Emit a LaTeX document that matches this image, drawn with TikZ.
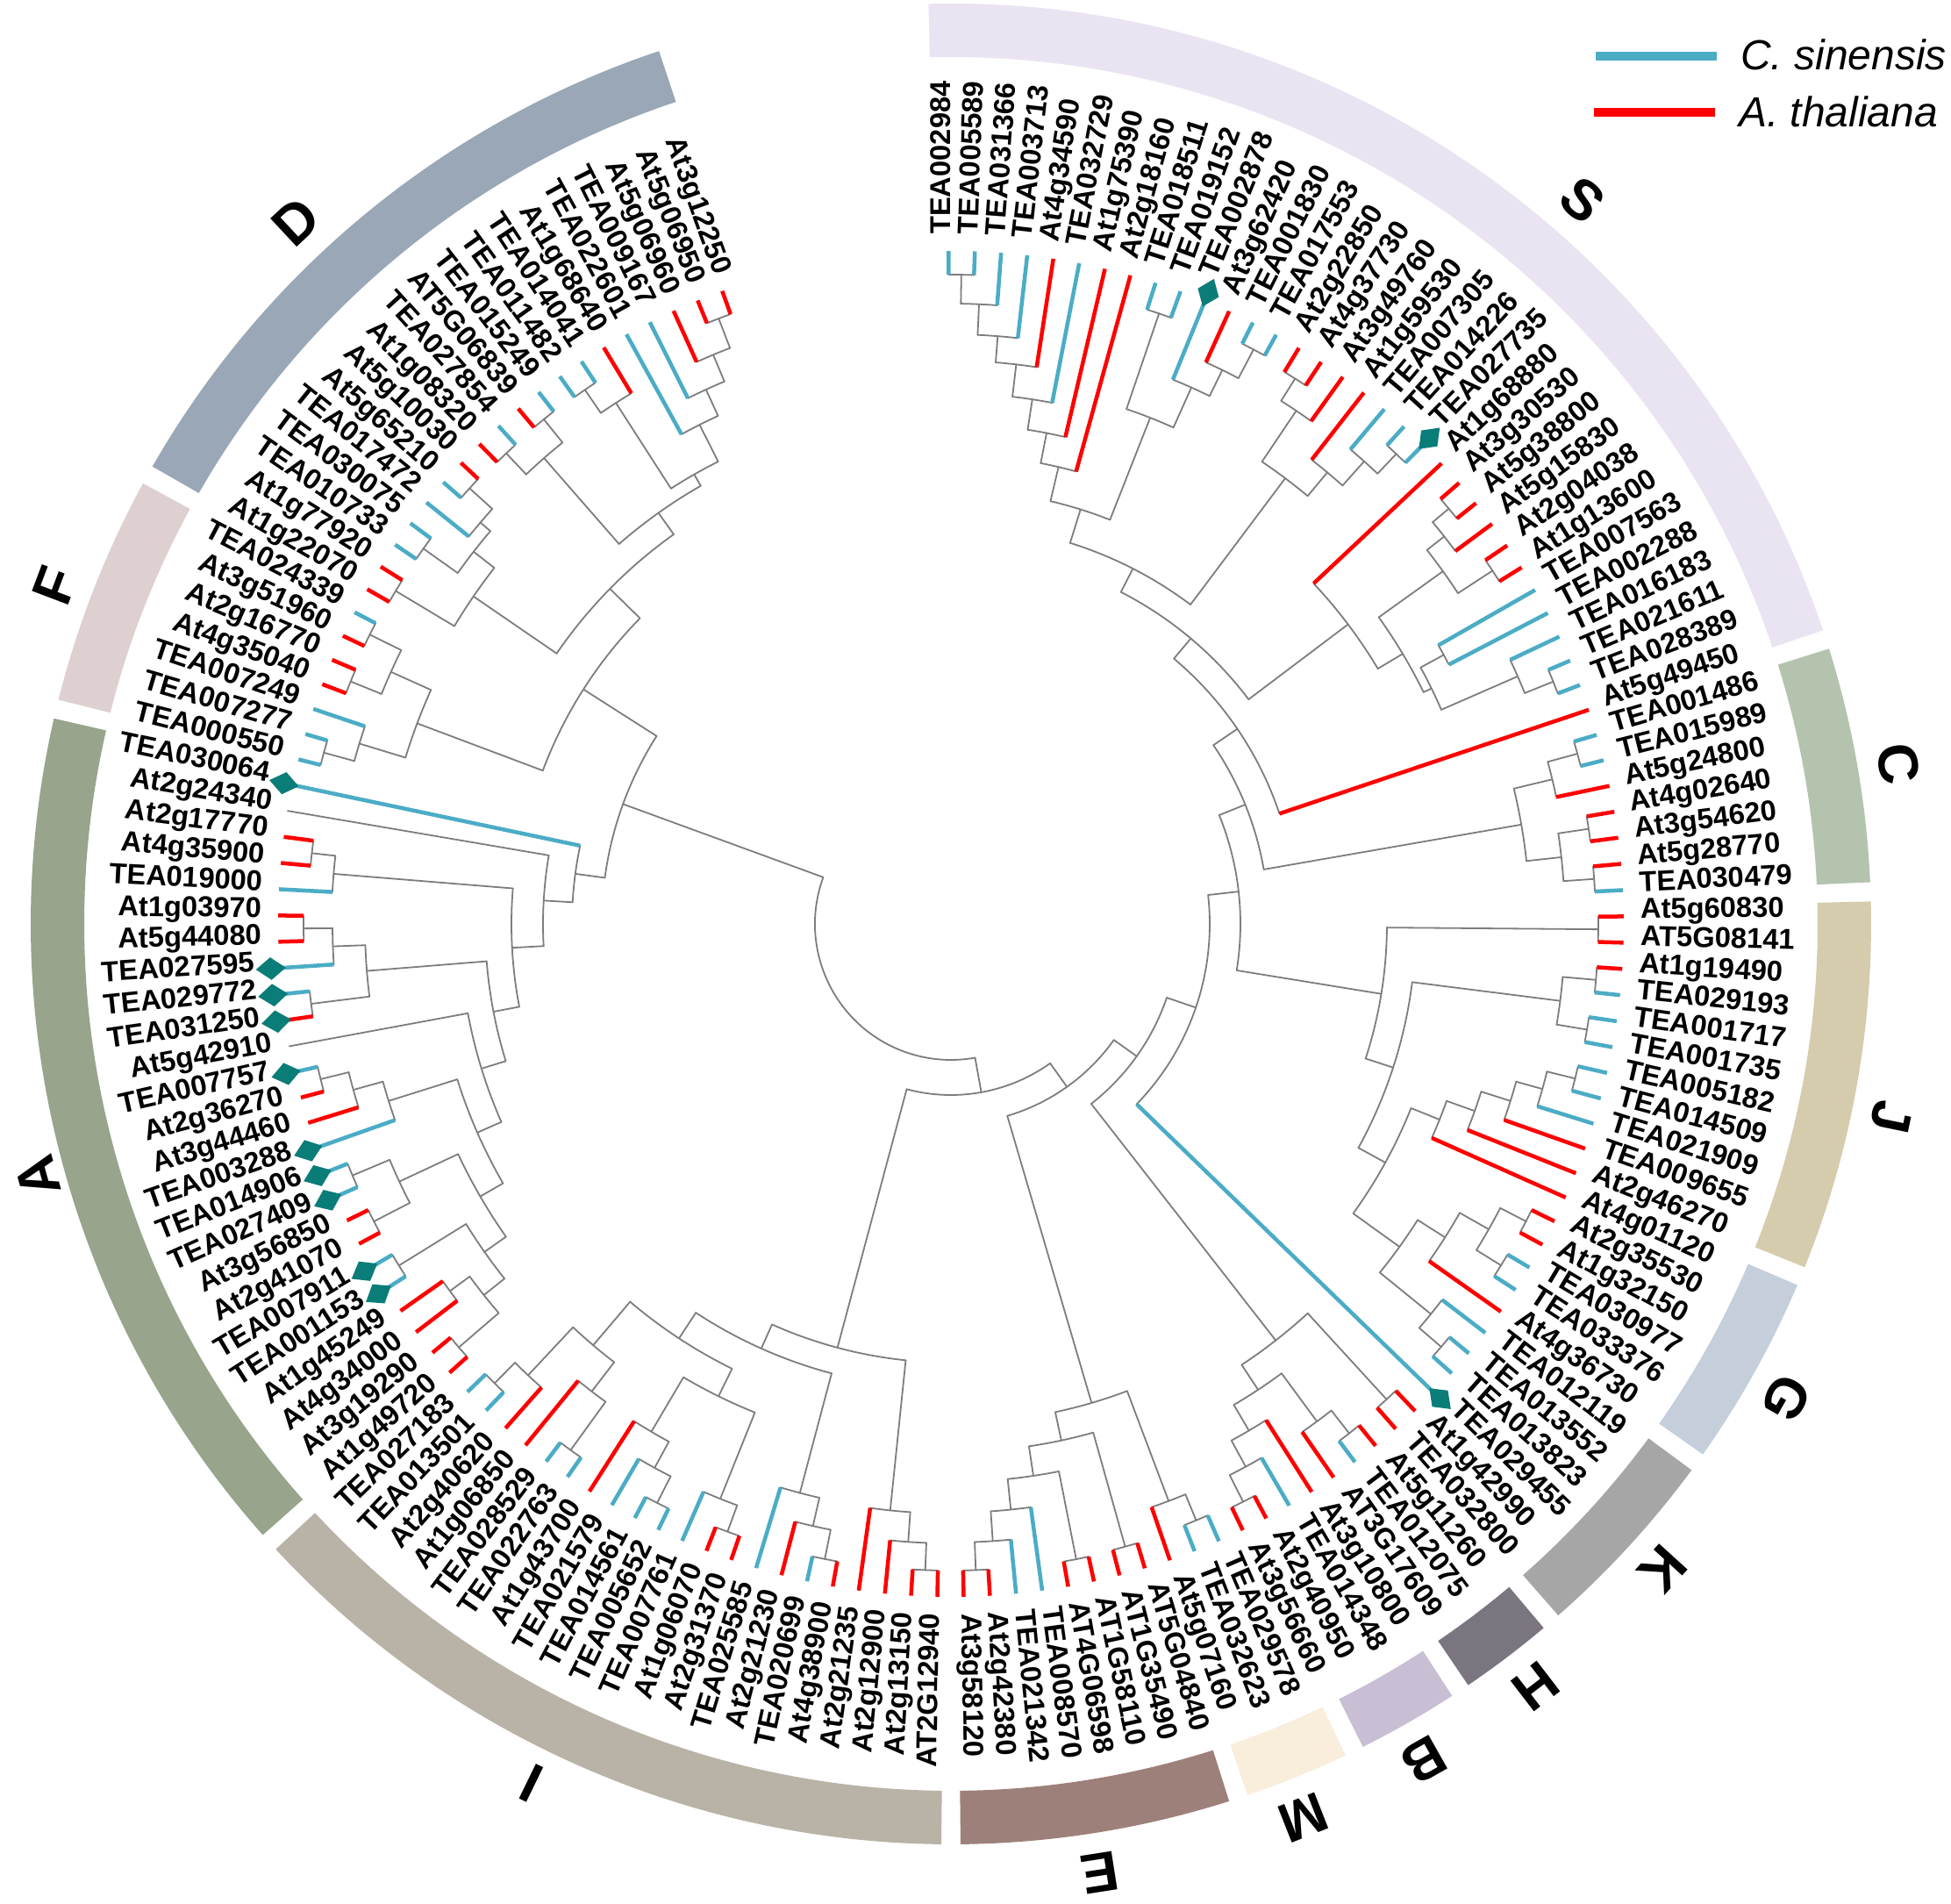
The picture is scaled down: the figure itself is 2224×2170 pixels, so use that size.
\documentclass[tikz,border=0pt]{standalone}
\usepackage{fontspec}
\setmainfont{Liberation Sans}
\definecolor{lgray}{RGB}{125,125,125}
\definecolor{tblue}{RGB}{75,172,198}
\definecolor{tred}{RGB}{255,0,0}
\definecolor{dcol}{RGB}{10,125,120}
\definecolor{cS}{RGB}{234,228,242}
\definecolor{cC}{RGB}{180,195,173}
\definecolor{cJ}{RGB}{213,204,173}
\definecolor{cG}{RGB}{197,207,220}
\definecolor{cK}{RGB}{166,166,166}
\definecolor{cH}{RGB}{123,117,128}
\definecolor{cB}{RGB}{201,191,212}
\definecolor{cM}{RGB}{249,238,220}
\definecolor{cE}{RGB}{158,128,122}
\definecolor{cI}{RGB}{185,178,166}
\definecolor{cA}{RGB}{152,164,139}
\definecolor{cF}{RGB}{222,207,208}
\definecolor{cD}{RGB}{153,167,182}
\tikzset{
  gl/.style={draw=lgray, line width=1.8pt, line cap=round},
  bl/.style={draw=tblue, line width=4.5pt},
  rl/.style={draw=tred, line width=4.5pt},
  labx/.style={inner sep=0pt, font=\fontsize{32.7pt}{36pt}\selectfont\bfseries},
  grpx/.style={inner sep=0pt, font=\fontsize{64pt}{70pt}\selectfont\bfseries}
}
\newcommand\myleaf[4]{%
  \pgfmathsetmacro\tzL{92.44-2.239*#1}%
  \expandafter\xdef\csname A@l#1\endcsname{\tzL}%
  \expandafter\xdef\csname R@l#1\endcsname{767}%
  \expandafter\xdef\csname C@l#1\endcsname{#3}%
  \ifnum#4=1 \def\tzR{795}\else\def\tzR{786}\fi
  \ifnum#1<82
    \node[labx, anchor=mid west, rotate=\tzL] at (\tzL:\tzR pt) {#2};%
  \else
    \pgfmathsetmacro\tzLb{\tzL+180}%
    \node[labx, anchor=mid east, rotate=\tzLb] at (\tzL:\tzR pt) {#2};%
  \fi
}
\newcommand\mynd[4]{%
  \edef\tzA{\csname A@#2\endcsname}%
  \edef\tzB{\csname A@#3\endcsname}%
  \edef\tzRA{\csname R@#2\endcsname}%
  \edef\tzRB{\csname R@#3\endcsname}%
  \edef\tzSA{\csname C@#2\endcsname}%
  \edef\tzSB{\csname C@#3\endcsname}%
  \pgfmathsetmacro\tzM{(\tzA+\tzB)/2}%
  \expandafter\xdef\csname A@#1\endcsname{\tzM}%
  \expandafter\xdef\csname R@#1\endcsname{#4}%
  \expandafter\xdef\csname C@#1\endcsname{gl}%
  \draw[gl] (\tzA:#4pt) arc[start angle=\tzA, end angle=\tzB, radius=#4pt];%
  \edef\tzcmd{\noexpand\draw[\tzSA] (\tzA:#4pt) -- (\tzA:\tzRA pt);}\tzcmd
  \edef\tzcmd{\noexpand\draw[\tzSB] (\tzB:#4pt) -- (\tzB:\tzRB pt);}\tzcmd
}
\newcommand\myring[3]{%
  \fill[#3] (#1:988pt) arc[start angle=#1, end angle=#2, radius=988pt]
    -- (#2:1049pt) arc[start angle=#2, end angle=#1, radius=1049pt] -- cycle;}
\begin{document}
\begin{tikzpicture}
\fill[white] (-1084pt,-1117pt) rectangle (1140pt,1053pt);
\useasboundingbox (-1084pt,-1117pt) rectangle (1140pt,1053pt);
% group ring
\myring{91.4}{18.6}{cS}
\myring{17.4}{2.6}{cC}
\myring{1.4}{-21.9}{cJ}
\myring{-23.1}{-35.2}{cG}
\myring{-36.4}{-48.7}{cK}
\myring{-49.9}{-55.8}{cH}
\myring{-57.0}{-63.4}{cB}
\myring{-64.6}{-71.2}{cM}
\myring{-72.4}{-89.4}{cE}
\myring{-90.6}{-137.2}{cI}
\myring{-138.4}{-192.9}{cA}
\myring{-194.1}{-208.6}{cF}
\myring{-209.8}{-251.5}{cD}
\foreach \gname/\gang/\grad in {S/48.9/1095, C/9.6/1095, J/-11.6/1095, G/-29.6/1095, K/-42.2/1095, H/-52.5/1095, B/-60.5/1095, M/-68.5/1095, E/-81.1/1095, I/-116/1090, A/-164.5/1080, F/-200.7/1092, D/-227/1095}
  \node[grpx, rotate=\gang-90] at (\gang:\grad pt) {\gname};
% leaves
\myleaf{1}{TEA002984}{bl}{0}
\myleaf{2}{TEA005589}{bl}{0}
\myleaf{3}{TEA031366}{bl}{0}
\myleaf{4}{TEA003713}{bl}{0}
\myleaf{5}{At4g34590}{rl}{0}
\myleaf{6}{TEA032729}{bl}{0}
\myleaf{7}{At1g75390}{rl}{0}
\myleaf{8}{At2g18160}{rl}{0}
\myleaf{9}{TEA018511}{bl}{0}
\myleaf{10}{TEA019152}{bl}{0}
\myleaf{11}{TEA002878}{bl}{1}
\myleaf{12}{At3g62420}{rl}{0}
\myleaf{13}{TEA001830}{bl}{0}
\myleaf{14}{TEA017553}{bl}{0}
\myleaf{15}{At2g22850}{rl}{0}
\myleaf{16}{At4g37730}{rl}{0}
\myleaf{17}{At3g49760}{rl}{0}
\myleaf{18}{At1g59530}{rl}{0}
\myleaf{19}{TEA007305}{bl}{0}
\myleaf{20}{TEA014226}{bl}{0}
\myleaf{21}{TEA027735}{bl}{1}
\myleaf{22}{At1g68880}{rl}{0}
\myleaf{23}{At3g30530}{rl}{0}
\myleaf{24}{At5g38800}{rl}{0}
\myleaf{25}{At5g15830}{rl}{0}
\myleaf{26}{At2g04038}{rl}{0}
\myleaf{27}{At1g13600}{rl}{0}
\myleaf{28}{TEA007563}{bl}{0}
\myleaf{29}{TEA002288}{bl}{0}
\myleaf{30}{TEA016183}{bl}{0}
\myleaf{31}{TEA021611}{bl}{0}
\myleaf{32}{TEA028389}{bl}{0}
\myleaf{33}{At5g49450}{rl}{0}
\myleaf{34}{TEA001486}{bl}{0}
\myleaf{35}{TEA015989}{bl}{0}
\myleaf{36}{At5g24800}{rl}{0}
\myleaf{37}{At4g02640}{rl}{0}
\myleaf{38}{At3g54620}{rl}{0}
\myleaf{39}{At5g28770}{rl}{0}
\myleaf{40}{TEA030479}{bl}{0}
\myleaf{41}{At5g60830}{rl}{0}
\myleaf{42}{AT5G08141}{rl}{0}
\myleaf{43}{At1g19490}{rl}{0}
\myleaf{44}{TEA029193}{bl}{0}
\myleaf{45}{TEA001717}{bl}{0}
\myleaf{46}{TEA001735}{bl}{0}
\myleaf{47}{TEA005182}{bl}{0}
\myleaf{48}{TEA014509}{bl}{0}
\myleaf{49}{TEA021909}{bl}{0}
\myleaf{50}{TEA009655}{rl}{0}
\myleaf{51}{At2g46270}{rl}{0}
\myleaf{52}{At4g01120}{rl}{0}
\myleaf{53}{At2g35530}{rl}{0}
\myleaf{54}{At1g32150}{rl}{0}
\myleaf{55}{TEA030977}{bl}{0}
\myleaf{56}{TEA033376}{bl}{0}
\myleaf{57}{At4g36730}{rl}{0}
\myleaf{58}{TEA012119}{bl}{0}
\myleaf{59}{TEA013552}{bl}{0}
\myleaf{60}{TEA013823}{bl}{0}
\myleaf{61}{TEA029455}{bl}{1}
\myleaf{62}{At1g42990}{rl}{0}
\myleaf{63}{TEA032800}{rl}{0}
\myleaf{64}{At5g11260}{rl}{0}
\myleaf{65}{TEA012075}{bl}{0}
\myleaf{66}{AT3G17609}{rl}{0}
\myleaf{67}{At3g10800}{rl}{0}
\myleaf{68}{TEA014348}{bl}{0}
\myleaf{69}{At2g40950}{rl}{0}
\myleaf{70}{At3g56660}{rl}{0}
\myleaf{71}{TEA029578}{bl}{0}
\myleaf{72}{TEA032623}{bl}{0}
\myleaf{73}{At5g07160}{rl}{0}
\myleaf{74}{AT5G04840}{rl}{0}
\myleaf{75}{AT1G35490}{rl}{0}
\myleaf{76}{AT1G58110}{rl}{0}
\myleaf{77}{AT4G06598}{rl}{0}
\myleaf{78}{TEA008570}{bl}{0}
\myleaf{79}{TEA021342}{bl}{0}
\myleaf{80}{At2g42380}{rl}{0}
\myleaf{81}{At3g58120}{rl}{0}
\myleaf{82}{AT2G12940}{rl}{0}
\myleaf{83}{At2g13150}{rl}{0}
\myleaf{84}{At2g12900}{rl}{0}
\myleaf{85}{At2g21235}{rl}{0}
\myleaf{86}{At4g38900}{rl}{0}
\myleaf{87}{TEA020699}{bl}{0}
\myleaf{88}{At2g21230}{rl}{0}
\myleaf{89}{TEA025585}{bl}{0}
\myleaf{90}{At2g31370}{rl}{0}
\myleaf{91}{At1g06070}{rl}{0}
\myleaf{92}{TEA007761}{bl}{0}
\myleaf{93}{TEA005652}{bl}{0}
\myleaf{94}{TEA014561}{bl}{0}
\myleaf{95}{TEA021579}{bl}{0}
\myleaf{96}{At1g43700}{rl}{0}
\myleaf{97}{TEA022763}{bl}{0}
\myleaf{98}{TEA028529}{bl}{0}
\myleaf{99}{At1g06850}{rl}{0}
\myleaf{100}{At2g40620}{rl}{0}
\myleaf{101}{TEA013501}{bl}{0}
\myleaf{102}{TEA027183}{bl}{0}
\myleaf{103}{At1g49720}{rl}{0}
\myleaf{104}{At3g19290}{rl}{0}
\myleaf{105}{At4g34000}{rl}{0}
\myleaf{106}{At1g45249}{rl}{0}
\myleaf{107}{TEA001153}{bl}{1}
\myleaf{108}{TEA007911}{bl}{1}
\myleaf{109}{At2g41070}{rl}{0}
\myleaf{110}{At3g56850}{rl}{0}
\myleaf{111}{TEA027409}{bl}{1}
\myleaf{112}{TEA014906}{bl}{1}
\myleaf{113}{TEA003288}{bl}{1}
\myleaf{114}{At3g44460}{rl}{0}
\myleaf{115}{At2g36270}{rl}{0}
\myleaf{116}{TEA007757}{bl}{1}
\myleaf{117}{At5g42910}{gl}{0}
\myleaf{118}{TEA031250}{rl}{1}
\myleaf{119}{TEA029772}{bl}{1}
\myleaf{120}{TEA027595}{bl}{1}
\myleaf{121}{At5g44080}{rl}{0}
\myleaf{122}{At1g03970}{rl}{0}
\myleaf{123}{TEA019000}{bl}{0}
\myleaf{124}{At4g35900}{rl}{0}
\myleaf{125}{At2g17770}{rl}{0}
\myleaf{126}{At2g24340}{gl}{0}
\myleaf{127}{TEA030064}{bl}{1}
\myleaf{128}{TEA000550}{bl}{0}
\myleaf{129}{TEA007277}{bl}{0}
\myleaf{130}{TEA007249}{bl}{0}
\myleaf{131}{At4g35040}{rl}{0}
\myleaf{132}{At2g16770}{rl}{0}
\myleaf{133}{At3g51960}{rl}{0}
\myleaf{134}{TEA024339}{bl}{0}
\myleaf{135}{At1g22070}{rl}{0}
\myleaf{136}{At1g77920}{rl}{0}
\myleaf{137}{TEA010733}{bl}{0}
\myleaf{138}{TEA030075}{bl}{0}
\myleaf{139}{TEA017472}{bl}{0}
\myleaf{140}{At5g65210}{bl}{0}
\myleaf{141}{At5g10030}{rl}{0}
\myleaf{142}{At1g08320}{rl}{0}
\myleaf{143}{TEA027854}{bl}{0}
\myleaf{144}{AT5G06839}{rl}{0}
\myleaf{145}{TEA015249}{bl}{0}
\myleaf{146}{TEA011482}{bl}{0}
\myleaf{147}{TEA014041}{bl}{0}
\myleaf{148}{At1g68640}{rl}{0}
\myleaf{149}{TEA022601}{bl}{0}
\myleaf{150}{TEA009167}{bl}{0}
\myleaf{151}{At5g06960}{rl}{0}
\myleaf{152}{At5g06950}{rl}{0}
\myleaf{153}{At3g12250}{rl}{0}
% ---- tree: S
\mynd{sa1}{l1}{l2}{740}
\mynd{sa2}{sa1}{l3}{707}
\mynd{sa3}{sa2}{l4}{672}
\mynd{sa4}{sa3}{l5}{642}
\mynd{sa5}{sa4}{l6}{605}
\mynd{sa6}{sa5}{l7}{570}
\mynd{sa7}{sa6}{l8}{535}
\mynd{sb1}{l9}{l10}{735}
\mynd{sb2}{l13}{l14}{740}
\mynd{sb3}{l12}{sb2}{703}
\mynd{sb4}{l11}{sb3}{670}
\mynd{sb5}{sb1}{sb4}{620}
\mynd{sl}{sa7}{sb5}{495}
\mynd{sc1}{l15}{l16}{735}
\mynd{sc2}{sc1}{l17}{705}
\mynd{sc4}{l20}{l21}{738}
\mynd{sc5}{l19}{sc4}{707}
\mynd{sc3}{l18}{sc5}{670}
\mynd{sc6}{sc2}{sc3}{635}
\mynd{sLL}{sl}{sc6}{455}
\mynd{sd1}{l23}{l24}{739}
\mynd{sd2}{sd1}{l25}{715}
\mynd{sd3}{l26}{l27}{737}
\mynd{sd4}{sd2}{sd3}{690}
\mynd{se1}{l31}{l32}{740}
\mynd{se2}{se1}{l30}{705}
\mynd{se3}{l28}{l29}{640}
\mynd{se4}{se3}{se2}{610}
\mynd{stt}{sd4}{se4}{600}
\mynd{stw}{l22}{stt}{567}
\mynd{r7}{sLL}{stw}{425}
\mynd{r6}{r7}{l33}{395}
% C
\mynd{c1}{l34}{l35}{740}
\mynd{c2}{c1}{l36}{705}
\mynd{c3a}{l37}{l38}{735}
\mynd{c3b}{l39}{l40}{735}
\mynd{c3}{c3a}{c3b}{700}
\mynd{call}{c2}{c3}{660}
\mynd{r5}{call}{r6}{362}
% J G K
\mynd{j0}{l41}{l42}{738}
\mynd{j1}{l43}{l44}{738}
\mynd{j2}{l45}{l46}{735}
\mynd{j3}{j1}{j2}{700}
\mynd{jl1}{l47}{l48}{733}
\mynd{jl2}{jl1}{l49}{700}
\mynd{jl3}{jl2}{l50}{669}
\mynd{jl4}{jl3}{l51}{634}
\mynd{jl5}{jl4}{l52}{600}
\mynd{g1}{l53}{l54}{738}
\mynd{g2}{l55}{l56}{738}
\mynd{g3}{g1}{g2}{705}
\mynd{g4}{g3}{l57}{667}
\mynd{k1}{l59}{l60}{738}
\mynd{k2}{l58}{k1}{705}
\mynd{gk}{g4}{k2}{630}
\mynd{jgk3}{jl5}{gk}{565}
\mynd{jgk2}{j3}{jgk3}{530}
\mynd{jgk1}{j0}{jgk2}{497}
\mynd{r4}{jgk1}{r5}{330}
\mynd{r3}{l61}{r4}{295}
% H B
\mynd{k3}{l62}{l63}{735}
\mynd{h1}{l64}{l65}{737}
\mynd{h2}{h1}{l66}{704}
\mynd{b1}{l69}{l70}{738}
\mynd{b2}{b1}{l68}{704}
\mynd{b3}{b2}{l67}{670}
\mynd{bh1}{h2}{b3}{636}
\mynd{bh}{k3}{bh1}{602}
\mynd{r2}{bh}{r3}{260}
% M E
\mynd{m3}{l71}{l72}{735}
\mynd{m4}{l73}{m3}{703}
\mynd{e1}{l80}{l81}{737}
\mynd{e2}{e1}{l79}{705}
\mynd{e3}{e2}{l78}{671}
\mynd{e4}{l76}{l77}{738}
\mynd{e5}{e3}{e4}{636}
\mynd{e6}{l74}{l75}{737}
\mynd{e7}{e5}{e6}{602}
\mynd{em}{e7}{m4}{569}
\mynd{rr}{em}{r2}{228}
% I
\mynd{i1}{l82}{l83}{737}
\mynd{i2}{i1}{l84}{706}
\mynd{i3}{i2}{l85}{672}
\mynd{i4}{l86}{l87}{738}
\mynd{i5}{i4}{l88}{704}
\mynd{i6}{i5}{l89}{671}
\mynd{i8}{l90}{l91}{738}
\mynd{i9}{i8}{l92}{706}
\mynd{ia}{l93}{l94}{740}
\mynd{ib}{ia}{l95}{706}
\mynd{ic}{ib}{l96}{672}
\mynd{i10}{i9}{ic}{600}
\mynd{i14}{l97}{l98}{740}
\mynd{i15}{i14}{l99}{672}
\mynd{i12}{l101}{l102}{738}
\mynd{i13}{l100}{i12}{705}
\mynd{i16}{i15}{i13}{630}
\mynd{ileft}{i10}{i16}{565}
\mynd{irest}{i6}{ileft}{530}
\mynd{iall}{i3}{irest}{500}
\mynd{q}{iall}{rr}{195}
% A
\mynd{al1}{l103}{l104}{740}
\mynd{al2}{l105}{l106}{708}
\mynd{al3}{al1}{al2}{680}
\mynd{al4}{l107}{l108}{740}
\mynd{al5}{al4}{al3}{650}
\mynd{al6a}{l109}{l110}{740}
\mynd{al6b}{l111}{l112}{740}
\mynd{al6}{al6a}{al6b}{694}
\mynd{al7}{al6}{al5}{620}
\mynd{al8b}{l115}{l116}{740}
\mynd{al8a}{al8b}{l114}{707}
\mynd{al8}{al8a}{l113}{672}
\mynd{al9}{al8}{al7}{590}
\mynd{ne}{l117}{al9}{560}
\mynd{au1}{l121}{l122}{738}
\mynd{au2}{au1}{l120}{705}
\mynd{au3}{l118}{l119}{735}
\mynd{au4}{au2}{au3}{668}
\mynd{ndd}{au4}{ne}{531}
\mynd{au5}{l124}{l125}{733}
\mynd{au6}{au5}{l123}{706}
\mynd{nc}{au6}{ndd}{501}
\mynd{nb}{l126}{nc}{465}
\mynd{na}{l127}{nb}{432}
% F
\mynd{f1}{l128}{l129}{741}
\mynd{f2}{f1}{l130}{705}
\mynd{f3}{l131}{l132}{738}
\mynd{f4}{l133}{l134}{740}
\mynd{f45}{f3}{f4}{700}
\mynd{f5}{f2}{f45}{650}
% D
\mynd{d15}{l135}{l136}{738}
\mynd{d13}{l137}{l138}{738}
\mynd{d11}{l140}{l141}{740}
\mynd{d12}{l139}{d11}{705}
\mynd{d16}{d13}{d12}{690}
\mynd{d17}{d15}{d16}{660}
\mynd{d9}{l142}{l143}{738}
\mynd{d8}{l144}{l145}{739}
\mynd{d10}{d9}{d8}{705}
\mynd{d5}{l146}{l147}{738}
\mynd{d6}{d5}{l148}{706}
\mynd{d1}{l152}{l153}{739}
\mynd{d2}{d1}{l151}{703}
\mynd{d3}{l150}{d2}{670}
\mynd{d4}{l149}{d3}{637}
\mynd{d7}{d6}{d4}{590}
\mynd{dr}{d10}{d7}{575}
\mynd{dall}{d17}{dr}{545}
\mynd{fd}{f5}{dall}{497}
\mynd{afd}{fd}{na}{398}
\mynd{root}{afd}{q}{155}
% diamonds
\foreach \di in {11,21,61,107,108,111,112,113,116,118,119,120,127}{
  \pgfmathsetmacro\tzD{92.44-2.239*\di}
  \pgfmathsetmacro\tzDp{\tzD+0.95}
  \pgfmathsetmacro\tzDm{\tzD-0.95}
  \fill[dcol] (\tzD:760pt) -- (\tzDp:777pt) -- (\tzD:794pt) -- (\tzDm:777pt) -- cycle;
}
% legend
\draw[tblue, line width=10pt] (735pt,989pt) -- (873pt,989pt);
\node[anchor=west, inner sep=0pt, font=\fontsize{48pt}{52pt}\selectfont\itshape] (lg1) at (900pt,991pt) {C. sinensis};
\draw[tred, line width=10pt] (733pt,925pt) -- (871pt,925pt);
\node[anchor=west, inner sep=0pt, font=\fontsize{48pt}{52pt}\selectfont\itshape] (lg2) at (898pt,926pt) {A. thaliana};
\end{tikzpicture}
\end{document}
